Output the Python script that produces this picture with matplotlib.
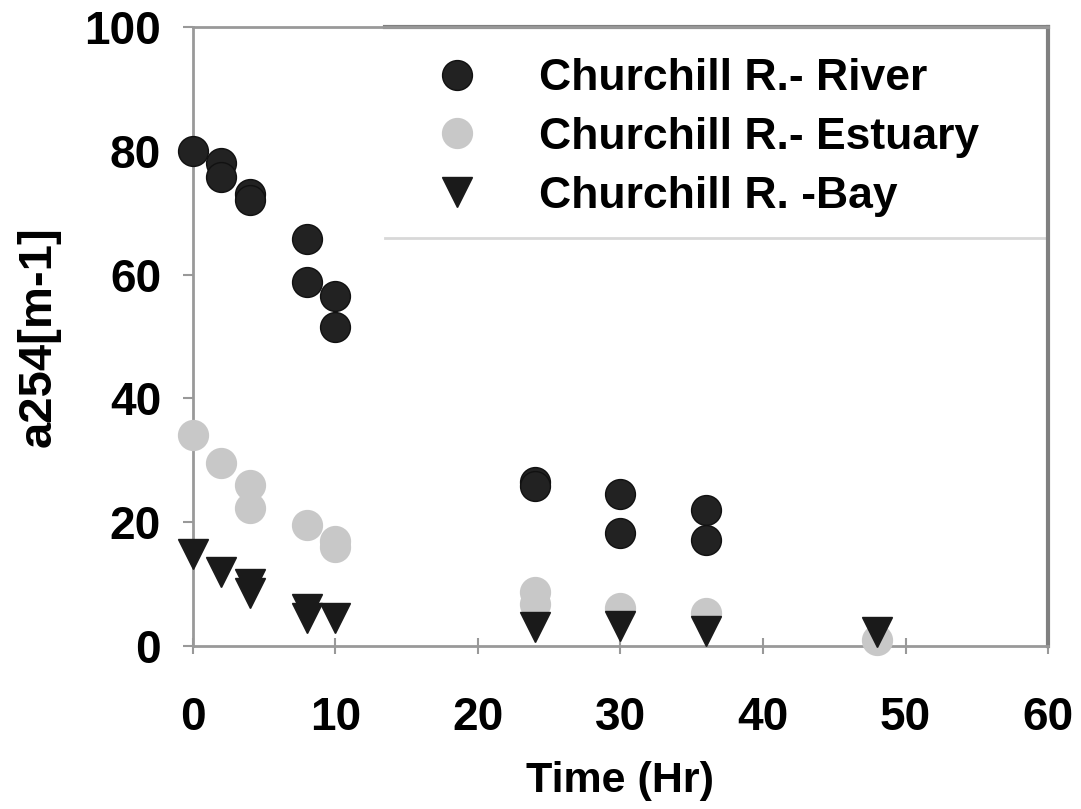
import matplotlib.pyplot as plt
from matplotlib.lines import Line2D

plt.rcParams['font.family'] = ['Liberation Sans', 'DejaVu Sans']

# Data
river_t = [0, 2, 2, 4, 4, 8, 8, 10, 10, 24, 24, 30, 30, 36, 36]
river_a = [80, 78, 75.8, 73, 72, 65.8, 58.8, 56.5, 51.5, 26.5, 25.8, 24.6, 18.3, 22, 17.1]

estuary_t = [0, 2, 4, 4, 8, 10, 10, 24, 24, 30, 36, 48]
estuary_a = [34.1, 29.6, 26, 22.3, 19.5, 17, 16, 8.7, 6.8, 6.2, 5.3, 1.0]

bay_t = [0, 2, 4, 4, 8, 8, 10, 24, 30, 36, 48]
bay_a = [14.9, 12.0, 10, 8.5, 6, 4.5, 4.5, 3, 3.2, 2.4, 2.2]

labels = ['Churchill R.- River', 'Churchill R.- Estuary', 'Churchill R. -Bay']

fig = plt.figure(figsize=(10.81, 8.09), dpi=100)
ax = fig.add_axes([0.1785, 0.2015, 0.791, 0.765])

ms = 21.5
ax.plot(river_t, river_a, 'o', color='#222222', mec='#111111', ms=ms,
        label=labels[0], clip_on=False, zorder=3)
ax.plot(estuary_t, estuary_a, 'o', color='#c8c8c8', mec='#c8c8c8', ms=ms,
        label=labels[1], clip_on=False, zorder=3)
ax.plot(bay_t, bay_a, 'v', color='#1a1a1a', mec='#1a1a1a', ms=ms,
        label=labels[2], clip_on=False, zorder=4)

ax.set_xlim(0, 60)
ax.set_ylim(0, 100)
ax.set_xticks(range(0, 61, 10))
ax.set_yticks(range(0, 101, 20))

for s in ax.spines.values():
    s.set_color('#999999')
    s.set_linewidth(2)
ax.spines['right'].set_color('#808080')
ax.spines['right'].set_linewidth(3)
ax.tick_params(axis='y', direction='out', length=7, width=1.5, color='#999999',
               labelsize=33, pad=16)
ax.tick_params(axis='x', direction='inout', length=12, width=1.5, color='#999999',
               labelsize=33, pad=30)
for lab in ax.get_xticklabels() + ax.get_yticklabels():
    lab.set_fontweight('bold')

ax.set_xlabel('Time (Hr)', fontsize=31, fontweight='bold', labelpad=15)
ax.set_ylabel('a254[m-1]', fontsize=34, fontweight='bold', labelpad=17)

leg = ax.legend(loc='upper left', bbox_to_anchor=(0.22, 1.0), frameon=False,
                prop={'weight': 'bold', 'size': 32},
                handletextpad=0.85, labelspacing=0.40, borderaxespad=0.3)

# legend box edges: darker top, light bottom
ax.add_line(Line2D([0.2246, 1.0], [1.0, 1.0], transform=ax.transAxes,
                   color='#808080', lw=3, clip_on=False))
ax.add_line(Line2D([0.2246, 1.0], [0.659, 0.659], transform=ax.transAxes,
                   color='#d8d8d8', lw=2))

fig.savefig('out.png', dpi=100)
